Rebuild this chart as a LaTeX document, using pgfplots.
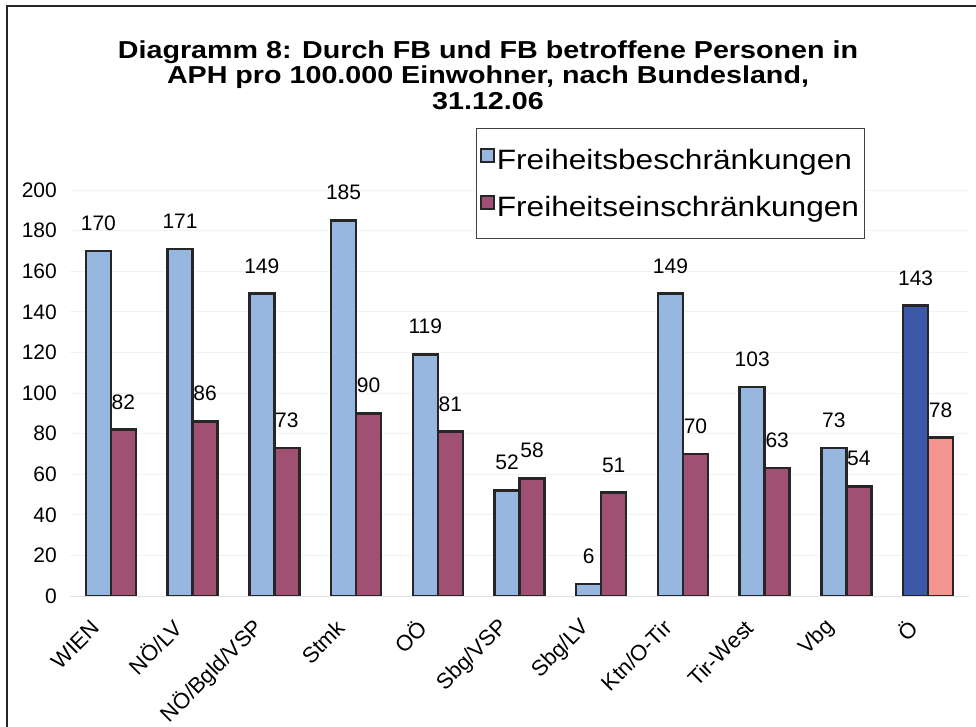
\documentclass[border=0pt]{standalone}
\usepackage{pgfplots}
\pgfplotsset{compat=1.18}
\usepackage{fontspec}
\setmainfont{Liberation Sans}
\newfontfamily\titlefont[FakeStretch=1.17]{Liberation Sans}
\newfontfamily\legfont[FakeStretch=1.13]{Liberation Sans}
\definecolor{lblue}{RGB}{151,183,224}
\definecolor{maroon}{RGB}{160,80,114}
\definecolor{dblue}{RGB}{59,89,168}
\definecolor{salmon}{RGB}{244,150,143}
\begin{document}
\begin{tikzpicture}
\begin{axis}[
  at={(70pt,131pt)}, anchor=south west,
  scale only axis, width=899pt, height=406pt,
  xmin=-0.5, xmax=10.5, ymin=0, ymax=200,
  ybar=0pt, bar width=25pt,
  xtick={0,...,10},
  xticklabels={WIEN,NÖ/LV,NÖ/Bgld/VSP,Stmk,OÖ,Sbg/VSP,Sbg/LV,Ktn/O-Tir,Tir-West,Vbg,Ö},
  ytick={0,20,...,200},
  /pgf/number format/assume math mode=true,
  yticklabel style={font=\fontsize{21}{24}\selectfont, anchor=east, inner sep=0pt, xshift=-13pt},
  xticklabel style={font=\fontsize{22}{24}\selectfont, xshift=-15pt, yshift=-28pt, rotate=45, anchor=east, inner sep=0pt},
  axis x line*=bottom, axis y line*=left,
  x axis line style={draw=black!12, line width=0.8pt},
  y axis line style={draw=none},
  major tick length=0pt,
  ymajorgrids, grid style={draw=black!5, line width=0.8pt},
  nodes near coords,
  every node near coord/.append style={font=\fontsize{21}{24}\selectfont, anchor=south, inner sep=0pt, yshift=19pt, text=black},
  legend style={at={(0.4516,1.1527)}, anchor=north west, draw=black!75, line width=1pt,
    font=\legfont\fontsize{28}{30}\selectfont, inner xsep=4pt, inner ysep=19pt, row sep=22pt,
    nodes={inner sep=1.5pt}},
  legend cell align=left,
  legend image code/.code={\draw[#1,/tikz/.cd,line width=1.8pt] (0pt,-2pt) rectangle (13pt,11pt);},
]
\addplot[fill=lblue, draw=black!85, line width=2.5pt, bar shift=-12.5pt] coordinates {
 (0,170) (1,171) (2,149) (3,185) (4,119) (5,52) (6,6) (7,149) (8,103) (9,73)};
\addlegendentry{Freiheitsbeschränkungen}
\addplot[fill=maroon, draw=black!85, line width=2.5pt, bar shift=12.5pt] coordinates {
 (0,82) (1,86) (2,73) (3,90) (4,81) (5,58) (6,51) (7,70) (8,63) (9,54)};
\addlegendentry{Freiheitseinschränkungen}
\addplot[fill=dblue, draw=black!85, line width=2.5pt, bar shift=-12.5pt, forget plot] coordinates {(10,143)};
\addplot[fill=salmon, draw=black!85, line width=2.5pt, bar shift=12.5pt, forget plot] coordinates {(10,78)};
\end{axis}
\node[align=center, font=\titlefont\bfseries\fontsize{24.5}{25.5}\selectfont] at (488pt,652pt)
  {Diagramm 8: Durch FB und FB betroffene Personen in\\APH pro 100.000 Einwohner, nach Bundesland,\\31.12.06};
\draw[line width=1.5pt, black!85] (7pt,-10pt) -- (7pt,721pt) -- (990pt,721pt);
\pgfresetboundingbox
\path[use as bounding box] (0pt,0pt) rectangle (976pt,727pt);
\end{tikzpicture}
\end{document}
